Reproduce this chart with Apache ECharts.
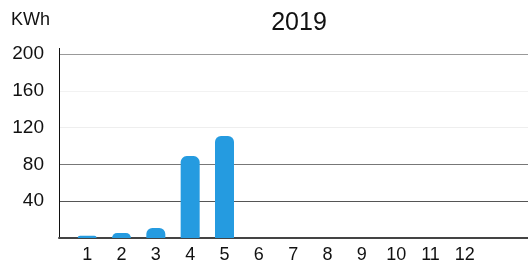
<!DOCTYPE html>
<html>
<head>
<meta charset="utf-8">
<script src="https://cdn.jsdelivr.net/npm/echarts@6/dist/echarts.min.js"></script>
<style>html,body{margin:0;padding:0;background:#fff;}#c{width:528px;height:268px;}</style>
</head>
<body>
<div id="c"></div>
<script>
const titleText = '2019';
const unitLabel = 'KWh';
const months = ['1','2','3','4','5','6','7','8','9','10','11','12'];
const energy = [2.5, 5.5, 11, 89, 111, null, null, null, null, null, null, null];
const yTicks = [0, 40, 80, 120, 160, 200];

const chart = echarts.init(document.getElementById('c'), null, {renderer: 'canvas'});
const font = 'Liberation Sans, Arial, sans-serif';
chart.setOption({
  animation: false,
  backgroundColor: '#fff',
  title: {
    text: titleText, left: 294, top: 6, textAlign: 'center',
    textStyle: {fontFamily: font, fontSize: 25, fontWeight: 'normal', color: '#111'}
  },
  graphic: [{
    type: 'text', left: 11, top: 11,
    style: {text: unitLabel, fontFamily: font, fontSize: 18, fill: '#111'}
  }, {
    type: 'line', shape: {x1: 59.5, y1: 48, x2: 59.5, y2: 54}, style: {stroke: '#111', lineWidth: 1}
  }],
  grid: [
    {left: 59, right: 0, top: 54, bottom: 30, containLabel: false},
    {left: 70, width: 412, top: 54, bottom: 30, containLabel: false}
  ],
  xAxis: [
    {gridIndex: 0, type: 'value', min: 0, max: 1, show: true,
     axisLine: {show: true, onZero: false, lineStyle: {color: '#444', width: 2}},
     axisTick: {show: false}, axisLabel: {show: false}, splitLine: {show: false}},
    {gridIndex: 1, type: 'category', data: months,
     axisLine: {show: false}, axisTick: {show: false},
     axisLabel: {fontFamily: font, fontSize: 18, color: '#111', margin: 8}}
  ],
  yAxis: [
    {gridIndex: 0, type: 'value', min: yTicks[0], max: yTicks[yTicks.length - 1], interval: 40,
     axisLine: {show: true, lineStyle: {color: '#111', width: 1}},
     axisTick: {show: false},
     axisLabel: {fontFamily: font, fontSize: 19, color: '#111', margin: 15,
       formatter: v => v === 0 ? '' : String(v)},
     splitLine: {show: true, lineStyle: {color: ['#888', '#555', '#777', '#eeeeee', '#f2f2f2', '#999'], width: 1}}},
    {gridIndex: 1, type: 'value', min: yTicks[0], max: yTicks[yTicks.length - 1], show: false,
     splitLine: {show: false}}
  ],
  series: [{
    type: 'bar', xAxisIndex: 1, yAxisIndex: 1, data: energy,
    barWidth: 19,
    itemStyle: {color: '#259be0', borderRadius: [6, 6, 0, 0]}
  }]
});
</script>
</body>
</html>
